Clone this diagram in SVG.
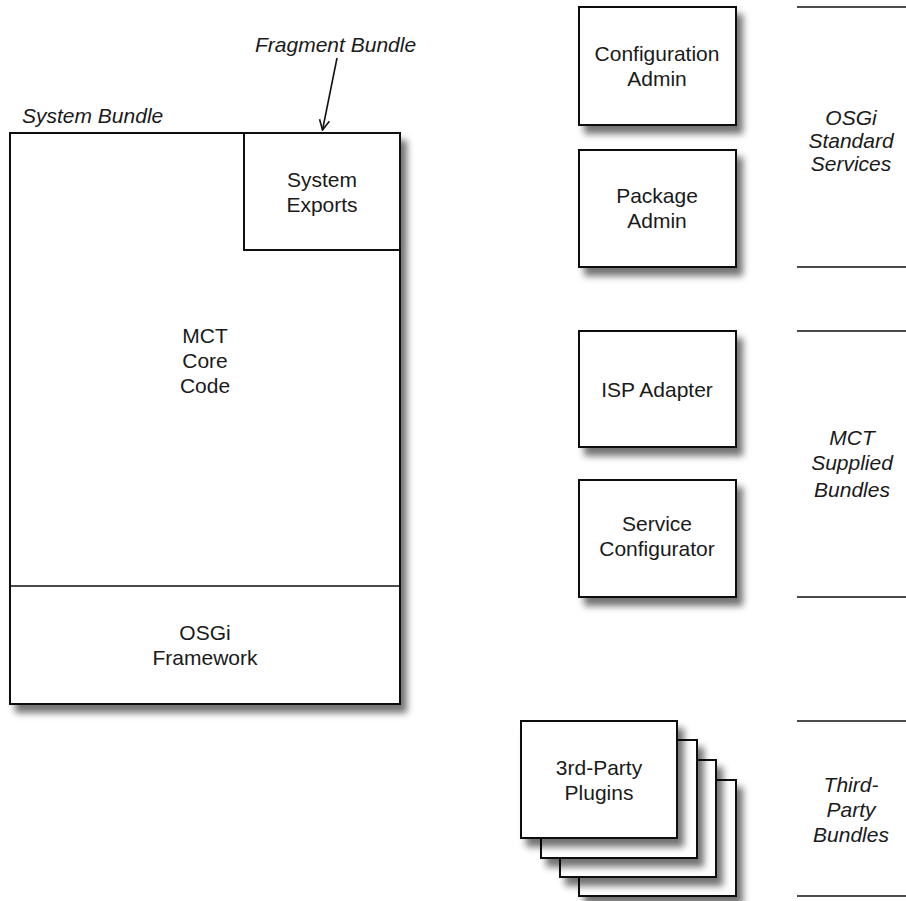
<svg xmlns="http://www.w3.org/2000/svg" width="906" height="901" viewBox="0 0 906 901">
<defs>
<filter id="sh" x="-10%" y="-10%" width="130%" height="130%">
<feDropShadow dx="6" dy="8" stdDeviation="3.5" flood-color="#000" flood-opacity="0.55"/>
</filter>
<marker id="ah" viewBox="0 0 12 12" refX="11" refY="6" markerWidth="12" markerHeight="12" markerUnits="userSpaceOnUse" orient="auto">
<path d="M1,1 L11,6 L1,11" fill="none" stroke="#111" stroke-width="1.6"/>
</marker>
</defs>
<style>
.box{fill:#fff;stroke:#111;stroke-width:2}
.sep{stroke:#111;stroke-width:1.6;fill:none}
.t{font-family:"Liberation Sans",Arial,sans-serif;font-size:21px;fill:#1a1a1a;text-anchor:middle}
.i{font-family:"Liberation Sans",Arial,sans-serif;font-size:21px;font-style:italic;fill:#1a1a1a;text-anchor:middle}
.il{font-family:"Liberation Sans",Arial,sans-serif;font-size:21px;font-style:italic;fill:#1a1a1a}
</style>
<rect width="906" height="901" fill="#fff"/>

<g id="system-bundle">
<rect class="box" x="10" y="133" width="390" height="571" filter="url(#sh)"/>
<line class="sep" x1="10" y1="586" x2="400" y2="586" stroke-width="2"/>
<text class="il" x="22" y="123">System Bundle</text>
</g>
<g id="system-exports">
<rect class="box" x="244" y="133" width="156" height="117"/>
<text class="t" x="322" y="187">System</text>
<text class="t" x="322" y="212">Exports</text>
</g>
<g id="mct-core">
<text class="t" x="205" y="343">MCT</text>
<text class="t" x="205" y="368">Core</text>
<text class="t" x="205" y="393">Code</text>
</g>
<g id="osgi-framework">
<text class="t" x="205" y="640">OSGi</text>
<text class="t" x="205" y="665">Framework</text>
</g>
<g id="fragment-bundle">
<text class="il" x="255" y="52">Fragment Bundle</text>
</g>

<g id="config-admin">
<rect class="box" x="579" y="7" width="157" height="118" filter="url(#sh)"/>
<text class="t" x="657" y="61">Configuration</text>
<text class="t" x="657" y="86">Admin</text>
</g>
<g id="package-admin">
<rect class="box" x="579" y="150" width="157" height="117" filter="url(#sh)"/>
<text class="t" x="657" y="203">Package</text>
<text class="t" x="657" y="228">Admin</text>
</g>
<g id="isp-adapter">
<rect class="box" x="579" y="331" width="157" height="116" filter="url(#sh)"/>
<text class="t" x="657" y="397">ISP Adapter</text>
</g>
<g id="service-configurator">
<rect class="box" x="579" y="480" width="157" height="117" filter="url(#sh)"/>
<text class="t" x="657" y="531">Service</text>
<text class="t" x="657" y="556">Configurator</text>
</g>
<g id="third-party-plugins">
<rect class="box" x="579" y="780" width="157" height="116" filter="url(#sh)"/>
<rect class="box" x="560" y="760" width="156" height="117" filter="url(#sh)"/>
<rect class="box" x="541" y="740" width="156" height="118" filter="url(#sh)"/>
<rect class="box" x="521" y="721" width="156" height="117" filter="url(#sh)"/>
<text class="t" x="599" y="775">3rd-Party</text>
<text class="t" x="599" y="800">Plugins</text>
</g>

<g id="osgi-standard-services">
<line class="sep" x1="797" y1="7" x2="906" y2="7"/>
<line class="sep" x1="797" y1="267" x2="906" y2="267"/>
<text class="i" x="851" y="125">OSGi</text>
<text class="i" x="851" y="148">Standard</text>
<text class="i" x="851" y="171">Services</text>
</g>
<g id="mct-supplied-bundles">
<line class="sep" x1="797" y1="331" x2="906" y2="331"/>
<line class="sep" x1="797" y1="597" x2="906" y2="597"/>
<text class="i" x="852" y="445">MCT</text>
<text class="i" x="852" y="470">Supplied</text>
<text class="i" x="852" y="497">Bundles</text>
</g>
<g id="third-party-bundles">
<line class="sep" x1="797" y1="721" x2="906" y2="721"/>
<line class="sep" x1="797" y1="896" x2="906" y2="896"/>
<text class="i" x="851" y="792">Third-</text>
<text class="i" x="851" y="817">Party</text>
<text class="i" x="851" y="842">Bundles</text>
</g>

<g id="connectors">
<line x1="337" y1="58" x2="322.5" y2="130" stroke="#111" stroke-width="1.6" marker-end="url(#ah)"/>
</g>
</svg>
